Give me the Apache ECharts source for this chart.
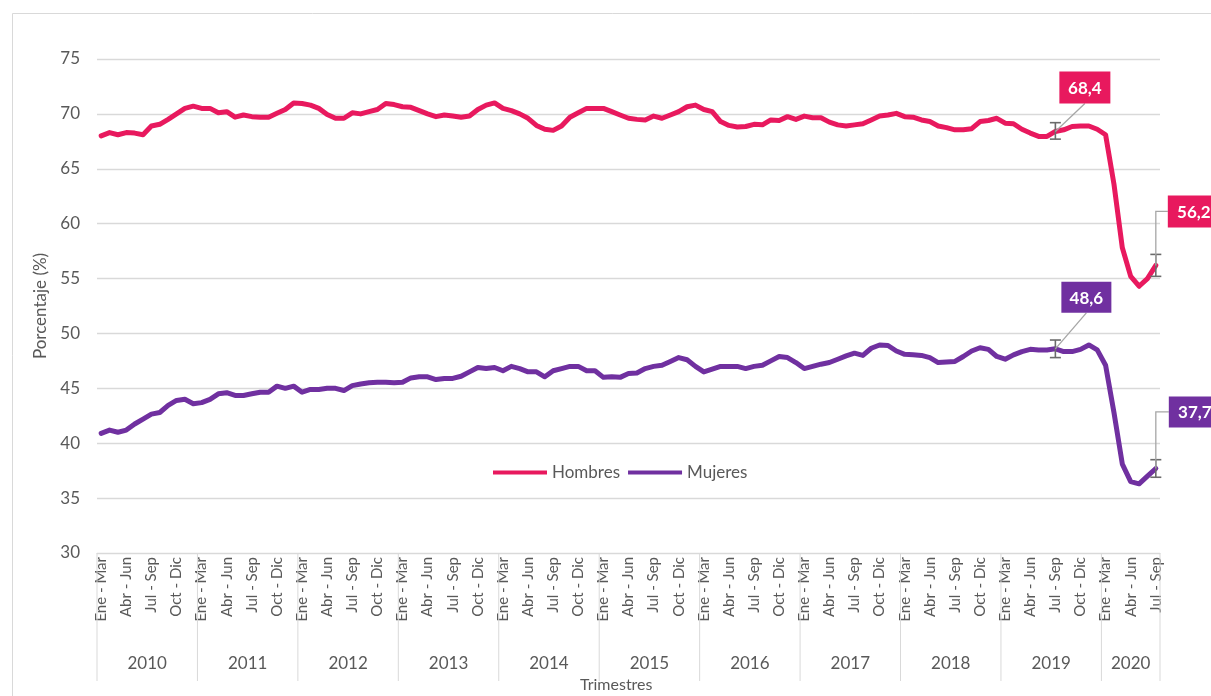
<!DOCTYPE html>
<html>
<head>
<meta charset="utf-8">
<script src="https://cdn.jsdelivr.net/npm/echarts@6/dist/echarts.min.js"></script>
<style>
  html, body { margin: 0; padding: 0; background: #fff; }
  #chart { width: 1211px; height: 696px; }
</style>
</head>
<body>
<div id="chart"></div>
<script>
// ---- Data ----
const years = ['2010','2011','2012','2013','2014','2015','2016','2017','2018','2019','2020'];
const trimestres = ['Ene - Mar','Feb - Abr','Mar - May','Abr - Jun','May - Jul','Jun - Ago',
                    'Jul - Sep','Ago - Oct','Sep - Nov','Oct - Dic','Nov - Ene','Dic - Feb'];
const monthsIn2020 = 7;

const hombres = [
  68.0, 68.3, 68.1, 68.3, 68.25, 68.1, 68.9, 69.05, 69.5, 70.0, 70.5, 70.7,
  70.5, 70.5, 70.1, 70.2, 69.7, 69.9, 69.75, 69.7, 69.7, 70.05, 70.4, 71.0,
  70.95, 70.8, 70.5, 69.95, 69.6, 69.6, 70.1, 70.0, 70.2, 70.4, 70.95, 70.85,
  70.65, 70.6, 70.3, 70.0, 69.75, 69.9, 69.8, 69.7, 69.8, 70.4, 70.8, 71.0,
  70.5, 70.3, 70.0, 69.6, 68.95, 68.6, 68.5, 68.9, 69.7, 70.1, 70.5, 70.5,
  70.5, 70.2, 69.9, 69.6, 69.5, 69.45, 69.8, 69.6, 69.9, 70.2, 70.65, 70.8,
  70.4, 70.2, 69.3, 68.95, 68.8, 68.85, 69.05, 69.0, 69.45, 69.4, 69.75, 69.5,
  69.8, 69.65, 69.65, 69.25, 69.0, 68.9, 69.0, 69.1, 69.45, 69.8, 69.9, 70.05,
  69.75, 69.7, 69.45, 69.3, 68.9, 68.75, 68.55, 68.55, 68.65, 69.3, 69.4, 69.6,
  69.15, 69.1, 68.6, 68.25, 67.95, 67.95, 68.4, 68.55, 68.85, 68.9, 68.9, 68.6,
  68.1, 63.6, 57.8, 55.2, 54.3, 55.0, 56.2
];
const mujeres = [
  40.9, 41.2, 41.0, 41.2, 41.75, 42.2, 42.65, 42.8, 43.45, 43.9, 44.0, 43.6,
  43.7, 44.0, 44.5, 44.6, 44.35, 44.35, 44.5, 44.65, 44.65, 45.2, 45.0, 45.2,
  44.65, 44.9, 44.9, 45.0, 45.0, 44.8, 45.25, 45.4, 45.5, 45.55, 45.55, 45.5,
  45.55, 45.95, 46.05, 46.05, 45.8, 45.9, 45.9, 46.1, 46.5, 46.9, 46.8, 46.9,
  46.6, 47.0, 46.8, 46.5, 46.5, 46.05, 46.6, 46.8, 47.0, 47.0, 46.6, 46.6,
  46.0, 46.05, 46.0, 46.35, 46.4, 46.8, 47.0, 47.1, 47.45, 47.8, 47.6, 47.0,
  46.5, 46.75, 47.0, 47.0, 47.0, 46.8, 47.0, 47.1, 47.5, 47.9, 47.8, 47.35,
  46.8, 47.0, 47.2, 47.35, 47.65, 47.95, 48.2, 48.0, 48.65, 48.95, 48.9, 48.4,
  48.1, 48.05, 48.0, 47.8, 47.35, 47.4, 47.45, 47.9, 48.4, 48.7, 48.55, 47.9,
  47.65, 48.05, 48.35, 48.55, 48.5, 48.5, 48.6, 48.35, 48.35, 48.55, 48.95, 48.5,
  47.1, 42.8, 38.1, 36.5, 36.3, 37.0, 37.7
];
// [category index, low, high]
const hombresErr = [[114, 67.7, 69.2], [126, 55.2, 57.2]];
const mujeresErr = [[114, 47.8, 49.4], [126, 36.9, 38.5]];
// [category index, value]
const hombresLabels = [[114, 68.4], [126, 56.2]];
const mujeresLabels = [[114, 48.6], [126, 37.7]];
const yTicks = { min: 30, max: 75, interval: 5 };

// ---- Build categories ----
const categories = [];
years.forEach((y, k) => {
  const n = (k === years.length - 1) ? monthsIn2020 : 12;
  for (let m = 0; m < n; m++) categories.push(trimestres[m]);
});
const yearSpans = years.map((y, k) => [k * 12, (k === years.length - 1) ? monthsIn2020 : 12]);

const PINK = '#E8195E';
const PURPLE = '#7030A0';
const GREY = '#595959';
const FONT = 'Lato, "Open Sans", sans-serif';

const chart = echarts.init(document.getElementById('chart'), null, { renderer: 'canvas' });

function errRender(params, api) {
  const i = api.value(0);
  const lo = api.coord([i, api.value(1)]);
  const hi = api.coord([i, api.value(2)]);
  const st = { stroke: '#6b6b6b', lineWidth: 1.6 };
  return {
    type: 'group',
    children: [
      { type: 'line', shape: { x1: lo[0], y1: lo[1], x2: hi[0], y2: hi[1] }, style: st },
      { type: 'line', shape: { x1: lo[0] - 5.5, y1: lo[1], x2: lo[0] + 5.5, y2: lo[1] }, style: st },
      { type: 'line', shape: { x1: hi[0] - 5.5, y1: hi[1], x2: hi[0] + 5.5, y2: hi[1] }, style: st }
    ]
  };
}

function makeLabelRender(color, layouts) {
  return function (params, api) {
    const i = api.value(0);
    const v = api.value(1);
    const p = api.coord([i, v]);
    const L = layouts[params.dataIndex];
    const bx = p[0] + L.dx, by = p[1] + L.dy;
    let leader;
    if (L.kind === 'diag') {
      leader = { type: 'polyline', shape: { points: [[bx + L.w / 2, by + L.h], [p[0], p[1]]] },
                 style: { stroke: '#a6a6a6', lineWidth: 1.3, fill: null } };
    } else {
      leader = { type: 'polyline', shape: { points: [[bx, by + L.h / 2], [p[0], by + L.h / 2], [p[0], p[1]]] },
                 style: { stroke: '#a6a6a6', lineWidth: 1.3, fill: null } };
    }
    return {
      type: 'group',
      children: [
        leader,
        { type: 'rect', shape: { x: bx, y: by, width: L.w, height: L.h }, style: { fill: color } },
        { type: 'text', x: bx + L.w / 2, y: by + L.h / 2 + 1,
          style: { text: v.toFixed(1).replace('.', ','), fill: '#fff', align: 'center', verticalAlign: 'middle',
                   font: 'bold 17px ' + FONT } }
      ]
    };
  };
}

const hLayout = [
  { kind: 'diag', dx: 4, dy: -60, w: 51, h: 32 },
  { kind: 'elbow', dx: 12, dy: -70, w: 52, h: 32 }
];
const mLayout = [
  { kind: 'diag', dx: 6, dy: -67, w: 50, h: 31 },
  { kind: 'elbow', dx: 13, dy: -72, w: 52, h: 31 }
];

function yearRender(params, api) {
  const start = api.value(0);
  const count = api.value(1);
  const c = api.coord([start, yTicks.min]);
  const band = api.size([1, 0])[0];
  const left = c[0] - band / 2;
  const right = left + count * band;
  const y0 = c[1];
  const st = { stroke: '#d9d9d9', lineWidth: 1 };
  const children = [
    { type: 'line', shape: { x1: left, y1: y0, x2: left, y2: y0 + 128 }, style: st },
    { type: 'text', x: (left + right) / 2, y: y0 + 111,
      style: { text: years[params.dataIndex], fill: GREY, align: 'center', verticalAlign: 'middle',
               font: '17px ' + FONT } }
  ];
  if (params.dataIndex === years.length - 1) {
    children.push({ type: 'line', shape: { x1: right, y1: y0, x2: right, y2: y0 + 128 }, style: st });
  }
  return { type: 'group', children };
}

chart.setOption({
  animation: false,
  backgroundColor: '#ffffff',
  textStyle: { fontFamily: FONT },
  grid: { left: 97, right: 51, top: 59, bottom: 143, containLabel: false },
  legend: {
    data: ['Hombres', 'Mujeres'],
    left: 488, top: 459,
    icon: 'rect', itemWidth: 54, itemHeight: 4, itemGap: 8,
    textStyle: { fontSize: 17, color: GREY, fontFamily: FONT }
  },
  xAxis: {
    type: 'category',
    data: categories,
    boundaryGap: true,
    axisLine: { show: true, lineStyle: { color: '#d9d9d9', width: 1 } },
    axisTick: { show: false },
    axisLabel: { interval: 2, rotate: 90, fontSize: 15, color: GREY, margin: 4, fontFamily: FONT },
    splitLine: { show: false }
  },
  yAxis: {
    type: 'value',
    min: yTicks.min, max: yTicks.max, interval: yTicks.interval,
    name: 'Porcentaje (%)', nameLocation: 'middle', nameGap: 45, nameRotate: 90,
    nameTextStyle: { fontSize: 17, color: GREY, fontFamily: FONT },
    axisLine: { show: false },
    axisTick: { show: false },
    axisLabel: { fontSize: 17, color: GREY, margin: 17, fontFamily: FONT },
    splitLine: { lineStyle: { color: '#d9d9d9', width: 1.3 } }
  },
  graphic: [
    { type: 'rect', left: 10, top: 11, shape: { width: 1240, height: 720 },
      style: { fill: null, stroke: '#d9d9d9', lineWidth: 1 }, silent: true },
    { type: 'text', left: 580, top: 677,
      style: { text: 'Trimestres', fill: GREY, font: '16px ' + FONT } }
  ],
  series: [
    { name: 'Hombres', type: 'line', data: hombres, symbol: 'none', smooth: false,
      lineStyle: { color: PINK, width: 5, join: 'round', cap: 'round' }, itemStyle: { color: PINK }, z: 3 },
    { name: 'Mujeres', type: 'line', data: mujeres, symbol: 'none', smooth: false,
      lineStyle: { color: PURPLE, width: 5, join: 'round', cap: 'round' }, itemStyle: { color: PURPLE }, z: 3 },
    { type: 'custom', data: hombresErr, renderItem: errRender, z: 4, clip: false, silent: true },
    { type: 'custom', data: mujeresErr, renderItem: errRender, z: 4, clip: false, silent: true },
    { type: 'custom', data: hombresLabels, renderItem: makeLabelRender(PINK, hLayout), z: 5, clip: false, silent: true },
    { type: 'custom', data: mujeresLabels, renderItem: makeLabelRender(PURPLE, mLayout), z: 5, clip: false, silent: true },
    { type: 'custom', data: yearSpans, renderItem: yearRender, z: 2, clip: false, silent: true }
  ]
});
</script>
</body>
</html>
